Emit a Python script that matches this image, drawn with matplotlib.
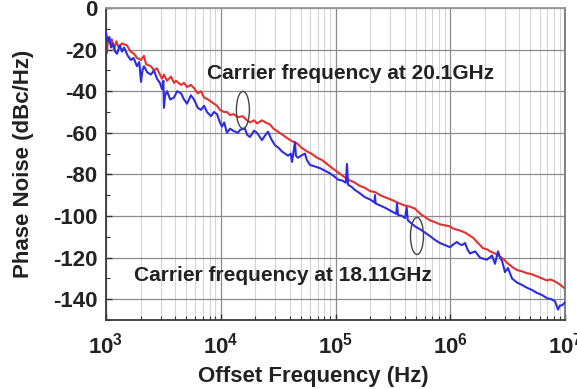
import numpy as np
import matplotlib
matplotlib.use("Agg")
import matplotlib.pyplot as plt
from matplotlib.patches import Ellipse
from matplotlib.transforms import ScaledTranslation
from matplotlib.ticker import LogLocator, FixedLocator, MultipleLocator

plt.rcParams['font.family'] = ['Liberation Sans', 'DejaVu Sans']
plt.rcParams['font.weight'] = 'bold'
plt.rcParams['mathtext.fontset'] = 'custom'
plt.rcParams['mathtext.rm'] = 'Liberation Sans:bold'
plt.rcParams['mathtext.bf'] = 'Liberation Sans:bold'

# ---- data (log10 offset frequency in Hz, phase noise in dBc/Hz) ----
red_logf = [3.000, 3.009, 3.018, 3.035, 3.050, 3.070, 3.090, 3.110, 3.140, 3.183, 3.215, 3.244,
            3.270, 3.305, 3.331, 3.349, 3.392, 3.418, 3.444, 3.488, 3.505, 3.532, 3.566, 3.593,
            3.610, 3.654, 3.680, 3.706, 3.740, 3.767, 3.800, 3.828, 3.854, 3.890, 3.915, 3.941,
            3.967, 3.993, 4.030, 4.054, 4.081, 4.110, 4.150, 4.190, 4.229, 4.255, 4.290, 4.316,
            4.359, 4.390, 4.429, 4.460, 4.499, 4.540, 4.577, 4.620, 4.664, 4.700, 4.752, 4.790,
            4.839, 4.880, 4.926, 4.960, 4.996, 5.022, 5.083, 5.130, 5.170, 5.210, 5.257, 5.300,
            5.344, 5.390, 5.431, 5.480, 5.519, 5.560, 5.606, 5.650, 5.693, 5.740, 5.780, 5.820,
            5.867, 5.910, 5.954, 5.998, 6.024, 6.085, 6.130, 6.172, 6.200, 6.233, 6.260, 6.285,
            6.320, 6.346, 6.390, 6.434, 6.470, 6.495, 6.540, 6.582, 6.620, 6.669, 6.710, 6.756,
            6.800, 6.843, 6.870, 6.895, 6.930, 6.956, 6.980, 7.000]
red_db = [-18, -21.6, -14, -17, -15, -20, -16, -19, -17, -18, -21, -22,
          -24, -25, -23, -27, -28, -30, -29, -34, -32, -35, -33, -36,
          -35, -37, -36, -38, -37, -38.5, -41, -40, -43, -44, -45, -46,
          -47, -49, -50, -50, -51.5, -51, -52.5, -52, -54, -55, -54, -55.5,
          -54, -55, -56, -58, -59.5, -61, -62.5, -64, -65, -67, -69, -70,
          -72, -73, -75, -76.5, -78, -79, -81.5, -83, -84, -85.5, -86.5, -88,
          -88.5, -90, -91, -92, -93, -94, -95, -95.5, -96.5, -99, -100.5, -102,
          -103, -104, -104.5, -105, -106, -107, -108, -109.5, -110.5, -112.5, -114, -115.5,
          -116, -117, -118, -119.5, -121, -122.5, -124.5, -126, -126.5, -127.5, -128, -129,
          -130, -131, -130.5, -131, -132, -133, -134, -135]

blue_logf = [3.000, 3.015, 3.030, 3.044, 3.060, 3.080, 3.096, 3.120, 3.140, 3.157, 3.190, 3.218,
             3.240, 3.270, 3.290, 3.305, 3.318, 3.331, 3.360, 3.392, 3.418, 3.444, 3.470, 3.488,
             3.500, 3.505, 3.515, 3.532, 3.560, 3.593, 3.620, 3.654, 3.680, 3.706, 3.740, 3.767,
             3.800, 3.828, 3.854, 3.880, 3.915, 3.941, 3.967, 3.993, 4.011, 4.030, 4.054, 4.081,
             4.107, 4.150, 4.170, 4.211, 4.230, 4.255, 4.290, 4.316, 4.340, 4.359, 4.390, 4.412,
             4.440, 4.473, 4.499, 4.534, 4.560, 4.586, 4.610, 4.621, 4.647, 4.655, 4.673, 4.700,
             4.734, 4.750, 4.778, 4.810, 4.865, 4.900, 4.952, 4.990, 5.022, 5.060, 5.090, 5.100,
             5.110, 5.140, 5.170, 5.210, 5.257, 5.300, 5.340, 5.344, 5.350, 5.390, 5.431, 5.480,
             5.530, 5.536, 5.545, 5.580, 5.606, 5.620, 5.630, 5.660, 5.693, 5.740, 5.780, 5.820,
             5.867, 5.910, 5.954, 5.998, 6.030, 6.059, 6.080, 6.102, 6.129, 6.150, 6.172, 6.216,
             6.259, 6.285, 6.320, 6.364, 6.390, 6.416, 6.434, 6.451, 6.477, 6.503, 6.538, 6.582,
             6.620, 6.669, 6.710, 6.756, 6.800, 6.843, 6.880, 6.913, 6.939, 6.956, 6.974, 7.000]
blue_db = [-12, -16, -14, -19, -17, -21, -22, -18, -21, -19, -23, -25,
           -24, -28, -26, -35.5, -30, -28, -31, -32, -30, -34, -36, -39,
           -35, -48, -42, -40, -44, -43, -40, -41, -44, -46, -42, -44,
           -48, -49, -47, -50, -52, -50, -51, -55, -57, -55, -60, -58,
           -59, -60, -58.5, -58, -61, -62, -59, -60, -62, -63.5, -61, -59.5,
           -63, -66, -67, -69, -70, -71, -70, -74, -64.5, -71, -72, -71,
           -70, -73, -75.5, -76, -77, -78, -79.5, -81, -82.5, -83, -84, -75,
           -85, -86, -87.5, -89, -91, -92, -93.5, -90, -94, -95, -96, -97.5,
           -99, -94, -99.5, -100, -101, -96, -102, -103.5, -105, -106.5, -108, -109.5,
           -111.5, -113, -114, -115, -113.5, -112.5, -113.5, -114, -113, -116, -118, -117,
           -120, -120.5, -121, -119, -123, -117, -120, -121.5, -127, -125, -130, -132,
           -133, -134.5, -135.5, -137, -138, -139.5, -140, -141, -145, -143, -143, -141.5]

label_hi = "Carrier frequency at 20.1GHz"
label_lo = "Carrier frequency at 18.11GHz"
yticks = [0, -20, -40, -60, -80, -100, -120, -140]
xticks = [1e3, 1e4, 1e5, 1e6, 1e7]
xtick_labels = [r'$\mathbf{10^{3}}$', r'$\mathbf{10^{4}}$', r'$\mathbf{10^{5}}$',
                r'$\mathbf{10^{6}}$', r'$\mathbf{10^{7}}$']

fig = plt.figure(figsize=(5.77, 3.89), dpi=100)
ax = fig.add_axes([106/577, 1-320/389, 459/577, 312/389])

red_f = 10 ** np.array(red_logf)
blue_f = 10 ** np.array(blue_logf)
ax.plot(blue_f, blue_db, color='#2d2de0', lw=1.5, zorder=3)
ax.plot(red_f, red_db, color='#e63030', lw=1.5, zorder=2)

ax.set_xscale('log')
ax.set_xlim(1e3, 1e7)
ax.set_ylim(-150, 0)

ax.xaxis.set_major_locator(FixedLocator(xticks))
ax.set_xticklabels(xtick_labels)
ax.xaxis.set_minor_locator(LogLocator(base=10, subs=np.arange(2, 10), numticks=20))
ax.xaxis.set_minor_formatter(plt.NullFormatter())
ax.yaxis.set_major_locator(FixedLocator(yticks))
ax.set_yticklabels([str(v) for v in yticks])
ax.yaxis.set_minor_locator(MultipleLocator(10))

ax.grid(which='major', axis='both', color='#8c8c8c', lw=0.9)
ax.grid(which='minor', axis='x', color='#d4d4d4', lw=0.8)
ax.set_axisbelow(True)

ax.tick_params(which='both', direction='in', top=False, right=False, colors='#333333')
ax.tick_params(which='major', length=4, width=1, labelsize=16, labelcolor='#222222')
ax.tick_params(axis='y', which='major', pad=6)
ax.tick_params(axis='x', which='major', pad=9)
ax.tick_params(which='minor', length=3, width=0.8)
for s in ax.spines.values():
    s.set_color('#3a3a3a')
    s.set_linewidth(1.3)
ax.spines['top'].set_color('#999999')
ax.spines['right'].set_color('#777777')

ax.set_xlabel('Offset Frequency (Hz)', fontsize=16, fontweight='bold', color='#222222')
ax.set_ylabel('Phase Noise (dBc/Hz)', fontsize=16, fontweight='bold', color='#222222')
ax.xaxis.set_label_coords(0.451, -0.148)
ax.yaxis.set_label_coords(-0.157, 0.5)

ax.text(7.6e3, -31.3, label_hi, fontsize=15, fontweight='bold', color='#222222', va='center', ha='left')
ax.text(1.75e3, -128.4, label_lo, fontsize=15, fontweight='bold', color='#222222', va='center', ha='left')

for cx, cy in [(1.56e4, -49), (5.13e5, -109.6)]:
    e = Ellipse((0, 0), 0.13, 0.37, fill=False, edgecolor='#444444', lw=1.0,
                transform=fig.dpi_scale_trans + ScaledTranslation(cx, cy, ax.transData), zorder=4)
    ax.add_artist(e)

fig.savefig('out.png', dpi=100)
